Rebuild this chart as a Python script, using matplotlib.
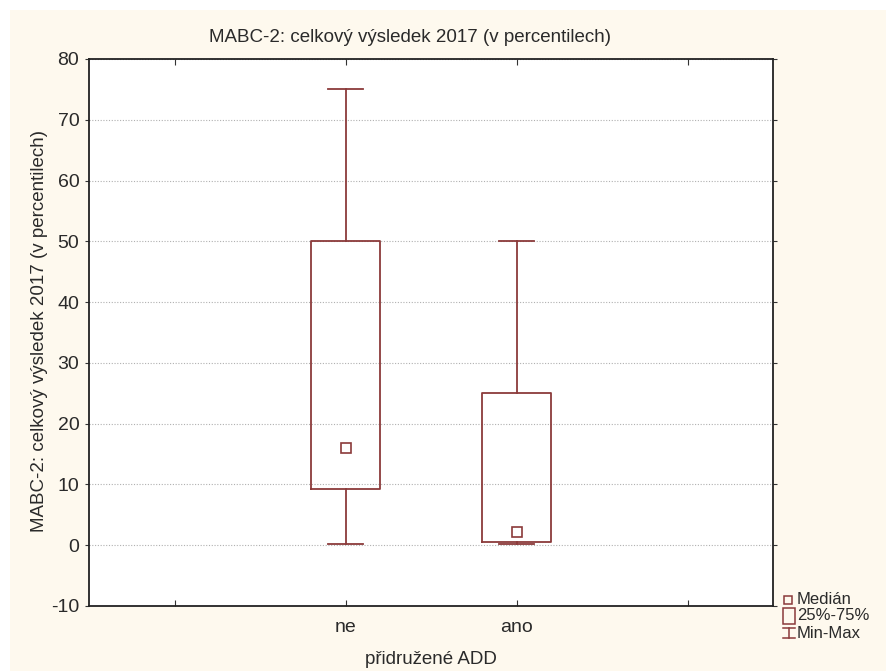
import matplotlib.pyplot as plt
from matplotlib.patches import Rectangle
from matplotlib.lines import Line2D

plt.rcParams['font.family'] = ['Liberation Sans', 'DejaVu Sans']
plt.rcParams['axes.unicode_minus'] = False

# box statistics per group (percentiles)
groups = ["ne", "ano"]
positions = [2, 3]
mins = [0.2, 0.2]
q1s = [9.2, 0.6]
medians = [16.0, 2.2]
q3s = [50.0, 25.0]
maxs = [75.0, 50.0]

y_ticks = [-10, 0, 10, 20, 30, 40, 50, 60, 70, 80]
x_ticks = [1, 2, 3, 4]
x_labels = ["", "ne", "ano", ""]

red = "#8B3A3A"
cream = "#FEF9EE"
ink = "#2a2a2a"

fig = plt.figure(figsize=(8.88, 6.71), dpi=100, facecolor="white")
W, H = 888, 671
fig.add_artist(Rectangle((10 / W, 0), (886 - 10) / W, (H - 10) / H,
                         transform=fig.transFigure, facecolor=cream,
                         edgecolor="none", zorder=-10))

ax = fig.add_axes([89 / W, 1 - 606 / H, (773 - 89) / W, (606 - 59) / H])
ax.set_facecolor("white")

stats = []
for g, lo, a, m, b, hi in zip(groups, mins, q1s, medians, q3s, maxs):
    stats.append(dict(label=g, whislo=lo, q1=a, med=m, q3=b, whishi=hi, fliers=[]))

ax.bxp(stats, positions=positions, widths=0.4, capwidths=0.21,
       showfliers=False, manage_ticks=False,
       boxprops=dict(color=red, linewidth=1.3),
       whiskerprops=dict(color=red, linewidth=1.3),
       capprops=dict(color=red, linewidth=1.3),
       medianprops=dict(visible=False))
ax.plot(positions, medians, linestyle="none", marker="s", markersize=7,
        markerfacecolor="none", markeredgecolor=red, markeredgewidth=1.2)

ax.set_xlim(0.5, 4.5)
ax.set_ylim(-10, 80)
ax.set_yticks(y_ticks)
ax.set_xticks(x_ticks)
ax.set_xticklabels(x_labels)
ax.yaxis.grid(True, linestyle=(0, (1, 1.5)), color="#b0b0b0", linewidth=0.8)
ax.set_axisbelow(True)

ax.tick_params(axis="x", direction="in", length=4, top=True, labelsize=14,
               pad=9, color="#333333", labelcolor=ink)
ax.tick_params(axis="y", direction="out", length=3, right=True, labelsize=14,
               pad=4, color="#333333", labelcolor=ink)
for s in ax.spines.values():
    s.set_linewidth(1.3)
    s.set_color("#222222")

fig.text(410 / W, 1 - 37 / H, "MABC-2: celkový výsledek 2017 (v percentilech)",
         ha="center", va="center", fontsize=13.5, color=ink)
fig.text(40 / W, 1 - 331 / H, "MABC-2: celkový výsledek 2017 (v percentilech)",
         ha="center", va="center", rotation=90, fontsize=13.5, color=ink)
fig.text(431 / W, 1 - 659 / H, "přidružené ADD",
         ha="center", va="center", fontsize=13.5, color=ink)

# legend drawn in figure pixel coordinates
def fx(x):
    return x / W

def fy(y):
    return 1 - y / H

fig.add_artist(Line2D([fx(788)], [fy(600)], marker="s", markersize=6,
                      markerfacecolor="none", markeredgecolor=red,
                      markeredgewidth=1.1, transform=fig.transFigure))
fig.add_artist(Rectangle((fx(783), fy(624)), 12 / W, 16 / H,
                         transform=fig.transFigure, facecolor="none",
                         edgecolor=red, linewidth=1.1))
fig.add_artist(Line2D([fx(789), fx(789)], [fy(628), fy(638)], color=red,
                      linewidth=1.1, transform=fig.transFigure))
fig.add_artist(Line2D([fx(783), fx(795)], [fy(628), fy(628)], color=red,
                      linewidth=1.1, transform=fig.transFigure))
fig.add_artist(Line2D([fx(783), fx(795)], [fy(638), fy(638)], color=red,
                      linewidth=1.1, transform=fig.transFigure))
for y, t in [(600, "Medián"), (616, "25%-75%"), (633, "Min-Max")]:
    fig.text(fx(797), fy(y), t, ha="left", va="center", fontsize=12,
             color=ink)

fig.savefig("out.png", dpi=100, facecolor=fig.get_facecolor())
